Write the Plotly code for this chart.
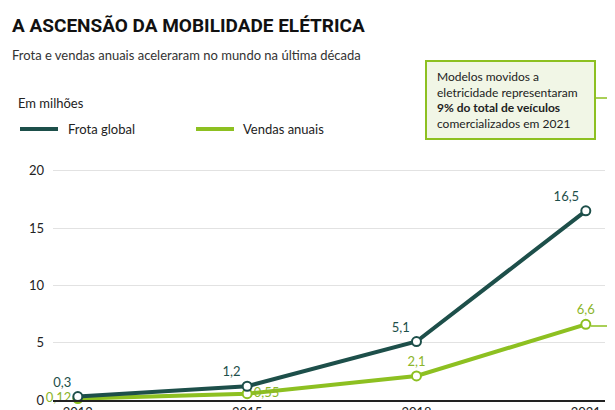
import plotly.graph_objects as go

years = [2012, 2015, 2018, 2021]
frota = [0.3, 1.2, 5.1, 16.5]
vendas = [0.12, 0.55, 2.1, 6.6]
frota_lbl = ["0,3", "1,2", "5,1", "16,5"]
vendas_lbl = ["0,12", "0,55", "2,1", "6,6"]
yticks = [0, 5, 10, 15, 20]

DARK = "#1d4f4a"
GREEN = "#8dc021"
L, R, T, B = 45, 597, 157, 392
W, H = 615, 410
def px(x): return (x - L) / (R - L)
def py(y): return (B - y) / (B - T)

fig = go.Figure()
fig.add_trace(go.Scatter(x=years, y=vendas, mode="lines+markers+text", text=vendas_lbl,
    textposition=["middle left", "middle right", "top center", "top center"],
    textfont=dict(color="#8cb52a", size=13, family="Lato"),
    line=dict(color=GREEN, width=4), marker=dict(size=9, color="white", line=dict(color=GREEN, width=2)),
    showlegend=False, cliponaxis=False))
fig.add_trace(go.Scatter(x=years, y=frota, mode="lines+markers+text", text=frota_lbl,
    textposition="top left",
    textfont=dict(color=DARK, size=13, family="Lato"),
    line=dict(color=DARK, width=4), marker=dict(size=9, color="white", line=dict(color=DARK, width=2)),
    showlegend=False, cliponaxis=False))

fig.update_layout(
    width=W, height=H, margin=dict(l=L, r=W - R, t=T, b=H - B, autoexpand=False),
    plot_bgcolor="white", paper_bgcolor="white",
    font=dict(family="Lato", color="#222", size=13),
    xaxis=dict(range=[2011.56, 2021.34], tickvals=years, showgrid=False, showline=True,
               linecolor="#222", linewidth=1.5, ticks="", zeroline=False),
    yaxis=dict(range=[0, 20.5], tickvals=yticks, gridcolor="#e2e2e2", showline=False,
               zeroline=False, ticklabelstandoff=8),
)
ann = []
ann.append(dict(text="<b>A ASCENSÃO DA MOBILIDADE ELÉTRICA</b>", x=px(2), y=py(4), xref="paper", yref="paper",
    xanchor="left", yanchor="top", showarrow=False, font=dict(family="Roboto", size=19, color="#111")))
ann.append(dict(text="Frota e vendas anuais aceleraram no mundo na última década", x=px(2), y=py(47),
    xref="paper", yref="paper", xanchor="left", yanchor="middle", showarrow=False, font=dict(size=13, color="#333")))
ann.append(dict(text="Em milhões", x=px(8), y=py(95), xref="paper", yref="paper", xanchor="left",
    yanchor="middle", showarrow=False, font=dict(size=13)))
ann.append(dict(text="Frota global", x=px(58), y=py(121), xref="paper", yref="paper", xanchor="left",
    yanchor="middle", showarrow=False, font=dict(size=13)))
ann.append(dict(text="Vendas anuais", x=px(233), y=py(121), xref="paper", yref="paper", xanchor="left",
    yanchor="middle", showarrow=False, font=dict(size=13)))
ann.append(dict(text="Modelos movidos a<br>eletricidade representaram<br><b>9% do total de veículos</b><br>comercializados em 2021",
    x=px(427), y=py(92), xref="paper", yref="paper", xanchor="left", yanchor="middle", align="left",
    showarrow=False, font=dict(size=12, color="#222")))
shapes = [
    dict(type="line", xref="paper", yref="paper", x0=px(12), x1=px(50), y0=py(121), y1=py(121),
         line=dict(color=DARK, width=4)),
    dict(type="line", xref="paper", yref="paper", x0=px(188), x1=px(226), y0=py(121), y1=py(121),
         line=dict(color=GREEN, width=4)),
    dict(type="rect", xref="paper", yref="paper", x0=px(418), x1=px(587), y0=py(53), y1=py(131),
         fillcolor="#f1f6e6", line=dict(color=GREEN, width=2), layer="below"),
    dict(type="path", xref="paper", yref="paper",
         path=f"M {px(587)} {py(90)} L {px(609)} {py(90)} L {px(609)} {py(318)} L {px(583)} {py(318)}",
         line=dict(color=GREEN, width=1.5)),
]
fig.update_layout(annotations=ann, shapes=shapes)
fig.write_html("out.html")
